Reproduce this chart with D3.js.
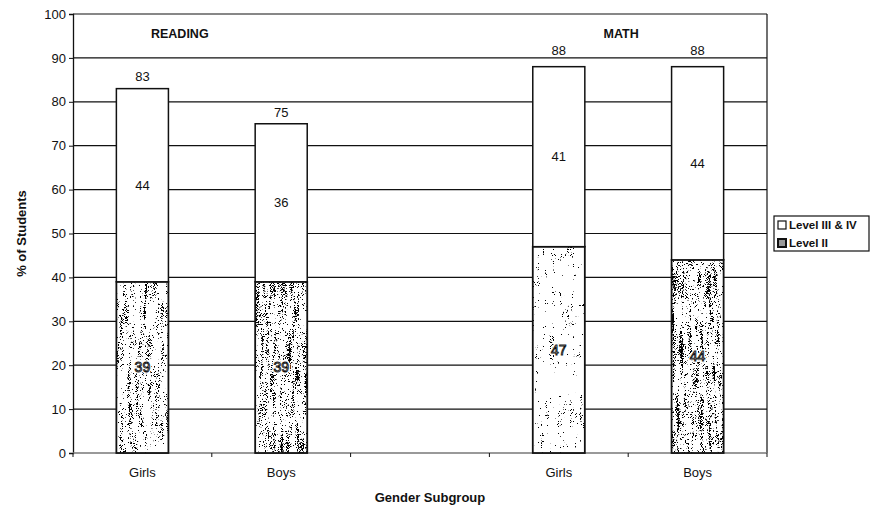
<!DOCTYPE html>
<html>
<head>
<meta charset="utf-8">
<script src="https://cdn.jsdelivr.net/npm/d3@7"></script>
<style>
  html, body { margin: 0; padding: 0; background: #fff; }
  svg { display: block; font-family: "Liberation Sans", Arial, sans-serif; }
</style>
</head>
<body>
<svg id="chart" width="871" height="512"></svg>
<script>
// Categories along the x axis (the empty slot separates the two subjects)
const categoryKeys   = ["readGirls", "readBoys", "gap", "mathGirls", "mathBoys"];
const categoryLabels = ["Girls", "Boys", "", "Girls", "Boys"];
const subjectLabels  = ["READING", "MATH"];

// Percent of students per level
const levelII       = [39, 39, null, 47, 44];
const levelIIIandIV = [44, 36, null, 41, 44];
const totals        = [83, 75, null, 88, 88];

const yTicks = [0, 10, 20, 30, 40, 50, 60, 70, 80, 90, 100];
const legendLabels = ["Level III & IV", "Level II"];

// Grain threshold of the Level II fill for each bar (higher = lighter texture)
const stippleThreshold = [0.585, 0.565, 0, 0.655, 0.56];
// Extra lift of the total labels above each bar
const totalLift = [8, 7, 0, 12, 12];

const svg = d3.select("#chart");
const plot = { left: 73, right: 767, top: 14, bottom: 453 };

const x = d3.scaleBand()
  .domain(categoryKeys)
  .range([plot.left, plot.right])
  .paddingInner(0.625)
  .paddingOuter(0.3125);

const y = d3.scaleLinear().domain([0, 100]).range([plot.bottom, plot.top]);

// Grainy speckled fills for the Level II segments
const defs = svg.append("defs");
function addStipple(id, threshold, seed) {
  const f = defs.append("filter")
    .attr("id", id)
    .attr("x", 0).attr("y", 0).attr("width", 1).attr("height", 1)
    .attr("filterUnits", "objectBoundingBox")
    .attr("color-interpolation-filters", "sRGB");
  // fine specks
  f.append("feTurbulence")
    .attr("type", "fractalNoise")
    .attr("baseFrequency", "1.6 0.9")
    .attr("numOctaves", 2)
    .attr("seed", seed)
    .attr("result", "fine");
  // slow vertical streaks that modulate the speck density
  f.append("feTurbulence")
    .attr("type", "fractalNoise")
    .attr("baseFrequency", "0.25 0.03")
    .attr("numOctaves", 2)
    .attr("seed", seed + 50)
    .attr("result", "streak");
  f.append("feComposite")
    .attr("in", "fine").attr("in2", "streak")
    .attr("operator", "arithmetic")
    .attr("k1", 0).attr("k2", 0.6).attr("k3", 0.4).attr("k4", 0)
    .attr("result", "mix");
  const k = 30;
  f.append("feColorMatrix")
    .attr("in", "mix")
    .attr("type", "matrix")
    .attr("values", `0 0 0 0 0  0 0 0 0 0  0 0 0 0 0  ${k} 0 0 0 ${-k * threshold}`);
}
categoryKeys.forEach((key, i) => {
  if (stippleThreshold[i] > 0) addStipple("stip-" + key, stippleThreshold[i], 7 + i * 3);
});

// Horizontal gridlines
svg.append("g")
  .selectAll("line")
  .data(yTicks.filter(d => d > 0))
  .join("line")
  .attr("x1", plot.left).attr("x2", plot.right)
  .attr("y1", d => y(d)).attr("y2", d => y(d))
  .attr("stroke", "#111").attr("stroke-width", 1.2);

// Right border of the plot area
svg.append("line")
  .attr("x1", plot.right).attr("x2", plot.right)
  .attr("y1", plot.top).attr("y2", plot.bottom)
  .attr("stroke", "#111").attr("stroke-width", 1.2);

// Y axis
const yAxis = svg.append("g")
  .attr("transform", `translate(${plot.left},0)`)
  .call(d3.axisLeft(y).tickValues(yTicks).tickSize(4).tickPadding(3));
yAxis.select(".domain").attr("stroke", "#111").attr("stroke-width", 1.3);
yAxis.selectAll(".tick line").attr("stroke", "#111");
yAxis.selectAll("text").attr("font-size", 13).attr("fill", "#111")
  .attr("font-family", "'Liberation Sans', Arial, sans-serif");

// X axis with ticks between categories
const xAxisG = svg.append("g").attr("transform", `translate(0,${plot.bottom})`);
xAxisG.append("line")
  .attr("x1", plot.left).attr("x2", plot.right)
  .attr("stroke", "#777").attr("stroke-width", 1.3);
const step = x.step();
const boundaries = categoryKeys.map(k => x(k) + x.bandwidth() / 2 - step / 2)
  .concat([x(categoryKeys[categoryKeys.length - 1]) + x.bandwidth() / 2 + step / 2]);
xAxisG.selectAll("line.tk")
  .data(boundaries)
  .join("line")
  .attr("class", "tk")
  .attr("x1", d => d).attr("x2", d => d)
  .attr("y1", 0).attr("y2", 4)
  .attr("stroke", "#111");
xAxisG.selectAll("text")
  .data(categoryKeys)
  .join("text")
  .attr("x", d => x(d) + x.bandwidth() / 2)
  .attr("y", 24)
  .attr("text-anchor", "middle")
  .attr("font-size", 13)
  .attr("fill", "#111")
  .text((d, i) => categoryLabels[i]);

// Stacked bars
const bars = svg.append("g");
categoryKeys.forEach((key, i) => {
  if (totals[i] == null) return;
  const bx = x(key), bw = x.bandwidth();
  // Level II segment
  bars.append("rect")
    .attr("x", bx).attr("y", y(levelII[i]))
    .attr("width", bw).attr("height", y(0) - y(levelII[i]))
    .attr("fill", "#fff");
  bars.append("rect")
    .attr("x", bx).attr("y", y(levelII[i]))
    .attr("width", bw).attr("height", y(0) - y(levelII[i]))
    .attr("fill", "#000")
    .attr("filter", `url(#stip-${key})`);
  bars.append("rect")
    .attr("x", bx).attr("y", y(levelII[i]))
    .attr("width", bw).attr("height", y(0) - y(levelII[i]))
    .attr("fill", "none").attr("stroke", "#111").attr("stroke-width", 1.8);
  // Level III & IV segment
  const top = levelII[i] + levelIIIandIV[i];
  bars.append("rect")
    .attr("x", bx).attr("y", y(top))
    .attr("width", bw).attr("height", y(levelII[i]) - y(top))
    .attr("fill", "#fff").attr("stroke", "#111").attr("stroke-width", 1.5);

  const cx = bx + bw / 2;
  // Level II value: hollow digits on a light halo
  bars.append("text")
    .attr("x", cx).attr("y", y(levelII[i] / 2)).attr("dy", "0.35em")
    .attr("text-anchor", "middle").attr("font-size", 14)
    .attr("fill", "#fff").attr("stroke", "#fff").attr("stroke-width", 3.5)
    .attr("stroke-linejoin", "round")
    .text(levelII[i]);
  bars.append("text")
    .attr("x", cx).attr("y", y(levelII[i] / 2)).attr("dy", "0.35em")
    .attr("text-anchor", "middle").attr("font-size", 14)
    .attr("fill", "#fff").attr("stroke", "#111").attr("stroke-width", 0.9)
    .text(levelII[i]);
  // Level III & IV value
  bars.append("text")
    .attr("x", cx).attr("y", y(levelII[i] + levelIIIandIV[i] / 2)).attr("dy", "0.35em")
    .attr("text-anchor", "middle").attr("font-size", 13).attr("fill", "#111")
    .text(levelIIIandIV[i]);
  // Total above the bar
  bars.append("text")
    .attr("x", cx).attr("y", y(totals[i]) - totalLift[i])
    .attr("text-anchor", "middle").attr("font-size", 13).attr("fill", "#111")
    .text(totals[i]);
});

// Subject headers
const readCenter = (x("readGirls") + x("readBoys") + x.bandwidth()) / 2;
const mathCenter = (x("mathGirls") + x("mathBoys") + x.bandwidth()) / 2;
svg.append("text")
  .attr("x", readCenter - 32).attr("y", 38)
  .attr("text-anchor", "middle").attr("font-size", 12.5).attr("font-weight", "bold").attr("fill", "#111")
  .text(subjectLabels[0]);
svg.append("text")
  .attr("x", mathCenter - 7).attr("y", 38)
  .attr("text-anchor", "middle").attr("font-size", 12.5).attr("font-weight", "bold").attr("fill", "#111")
  .text(subjectLabels[1]);

// Axis titles
svg.append("text")
  .attr("transform", `translate(26,${(plot.top + plot.bottom) / 2}) rotate(-90)`)
  .attr("text-anchor", "middle").attr("font-size", 13).attr("font-weight", "bold").attr("fill", "#111")
  .text("% of Students");
svg.append("text")
  .attr("x", 430).attr("y", 502)
  .attr("text-anchor", "middle").attr("font-size", 13).attr("font-weight", "bold").attr("fill", "#111")
  .text("Gender Subgroup");

// Legend
const lg = svg.append("g").attr("transform", "translate(774,216)");
lg.append("rect")
  .attr("x", 0).attr("y", 0).attr("width", 95).attr("height", 35)
  .attr("fill", "#fff").attr("stroke", "#111").attr("stroke-width", 1.2);
legendLabels.forEach((lab, i) => {
  const ry = 9 + i * 18;
  lg.append("rect")
    .attr("x", 4).attr("y", ry - 4).attr("width", 8).attr("height", 8)
    .attr("fill", i === 1 ? "#999" : "#fff");
  lg.append("rect")
    .attr("x", 4).attr("y", ry - 4).attr("width", 8).attr("height", 8)
    .attr("fill", "none").attr("stroke", "#111").attr("stroke-width", i === 1 ? 2 : 1.2);
  lg.append("text")
    .attr("x", 15).attr("y", ry).attr("dy", "0.35em")
    .attr("font-size", 11.5).attr("font-weight", "bold").attr("fill", "#111")
    .text(lab);
});
</script>
</body>
</html>
